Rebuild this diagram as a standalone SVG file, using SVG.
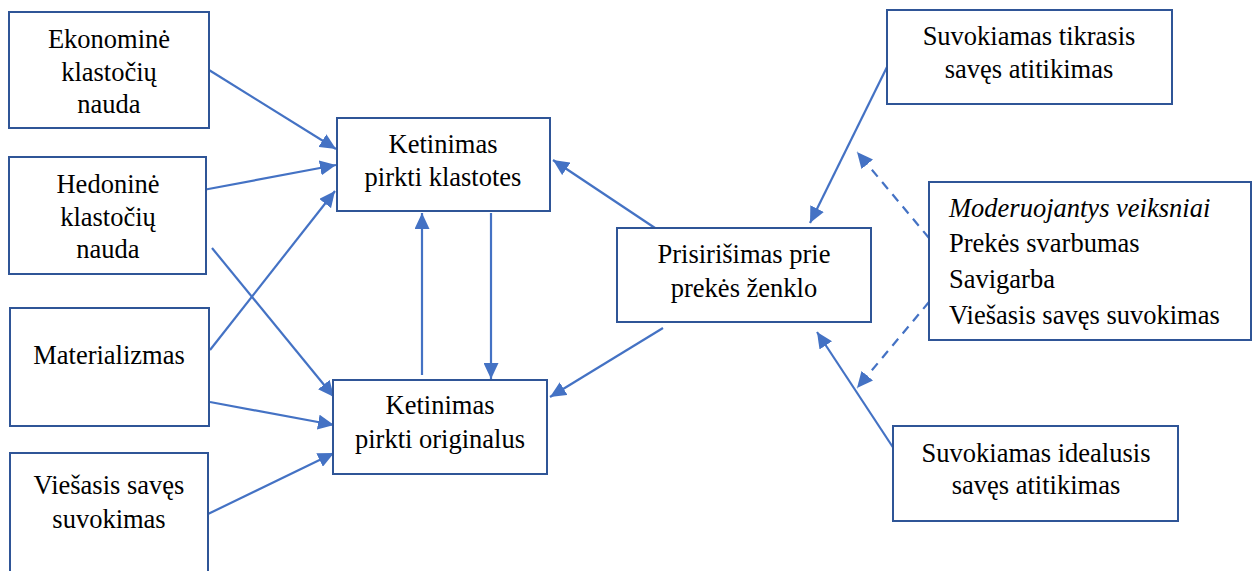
<svg xmlns="http://www.w3.org/2000/svg" width="1257" height="571" viewBox="0 0 1257 571">
  <style>
    .box { fill: #ffffff; stroke: #2f5597; stroke-width: 2; }
    .lbl { font-family: "Liberation Serif", Tinos, "Times New Roman", "Nimbus Roman", "DejaVu Serif", serif; font-size: 26.5px; fill: #000000; }
    .mid { text-anchor: middle; }
    .conn { stroke: #4472c4; stroke-width: 2.2; fill: none; marker-end: url(#arrow); }
    .dash { stroke-dasharray: 9 7; }
  </style>
  <defs>
    <marker id="arrow" viewBox="0 0 16 15" refX="16" refY="7.5" markerWidth="16" markerHeight="15" markerUnits="userSpaceOnUse" orient="auto">
      <path d="M0,0 L16,7.5 L0,15 z" fill="#4472c4"/>
    </marker>
  </defs>
  <rect width="1257" height="571" fill="#ffffff"/>

  <!-- connectors -->
  <g id="connectors">
    <line class="conn" x1="209" y1="70" x2="336" y2="149"/>
    <line class="conn" x1="203" y1="190" x2="336" y2="165"/>
    <line class="conn" x1="210" y1="350" x2="335" y2="191"/>
    <line class="conn" x1="212" y1="248" x2="334" y2="397"/>
    <line class="conn" x1="210" y1="402" x2="334" y2="425"/>
    <line class="conn" x1="208" y1="514" x2="334" y2="453"/>
    <line class="conn" x1="422" y1="375" x2="422" y2="213"/>
    <line class="conn" x1="491" y1="213" x2="491" y2="379"/>
    <line class="conn" x1="655" y1="228" x2="553" y2="160"/>
    <line class="conn" x1="663" y1="328" x2="550" y2="397"/>
    <line class="conn" x1="887" y1="67" x2="810" y2="223"/>
    <line class="conn" x1="898" y1="455" x2="817" y2="332"/>
    <line class="conn dash" x1="929" y1="238" x2="857" y2="152"/>
    <line class="conn dash" x1="929" y1="302" x2="857" y2="388"/>
  </g>

  <g id="ekonomine">
    <rect class="box" x="9" y="12" width="200" height="116"/>
    <text class="lbl mid" x="109" y="48">Ekonominė</text>
    <text class="lbl mid" x="109" y="81">klastočių</text>
    <text class="lbl mid" x="109" y="113">nauda</text>
  </g>
  <g id="hedonine">
    <rect class="box" x="9" y="157" width="197" height="117"/>
    <text class="lbl mid" x="108" y="193">Hedoninė</text>
    <text class="lbl mid" x="108" y="226">klastočių</text>
    <text class="lbl mid" x="108" y="258">nauda</text>
  </g>
  <g id="materializmas">
    <rect class="box" x="10" y="308" width="199" height="118"/>
    <text class="lbl mid" x="109" y="364">Materializmas</text>
  </g>
  <g id="viesasis">
    <rect class="box" x="10" y="453" width="198" height="130"/>
    <text class="lbl mid" x="109" y="494">Viešasis savęs</text>
    <text class="lbl mid" x="109" y="528">suvokimas</text>
  </g>
  <g id="ketinimas-klastotes">
    <rect class="box" x="337" y="118" width="213" height="93"/>
    <text class="lbl mid" x="443" y="153">Ketinimas</text>
    <text class="lbl mid" x="443" y="186">pirkti klastotes</text>
  </g>
  <g id="ketinimas-originalus">
    <rect class="box" x="333" y="380" width="214" height="94"/>
    <text class="lbl mid" x="440" y="414">Ketinimas</text>
    <text class="lbl mid" x="440" y="448">pirkti originalus</text>
  </g>
  <g id="prisirisimas">
    <rect class="box" x="617" y="228" width="254" height="94"/>
    <text class="lbl mid" x="744" y="263">Prisirišimas prie</text>
    <text class="lbl mid" x="744" y="297">prekės ženklo</text>
  </g>
  <g id="tikrasis">
    <rect class="box" x="887" y="10" width="285" height="94"/>
    <text class="lbl mid" x="1029" y="45">Suvokiamas tikrasis</text>
    <text class="lbl mid" x="1029" y="78">savęs atitikimas</text>
  </g>
  <g id="moderuojantys">
    <rect class="box" x="929" y="182" width="322" height="158"/>
    <text class="lbl" x="949" y="217" font-style="italic">Moderuojantys veiksniai</text>
    <text class="lbl" x="949" y="252">Prekės svarbumas</text>
    <text class="lbl" x="949" y="288">Savigarba</text>
    <text class="lbl" x="949" y="324">Viešasis savęs suvokimas</text>
  </g>
  <g id="idealusis">
    <rect class="box" x="893" y="426" width="285" height="95"/>
    <text class="lbl mid" x="1036" y="462">Suvokiamas idealusis</text>
    <text class="lbl mid" x="1036" y="494">savęs atitikimas</text>
  </g>
</svg>
